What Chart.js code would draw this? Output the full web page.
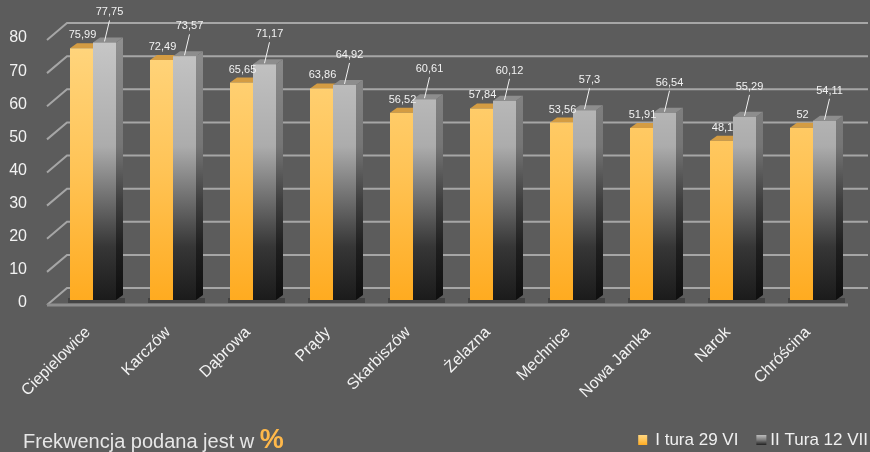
<!DOCTYPE html>
<html>
<head>
<meta charset="utf-8">
<script src="https://cdn.jsdelivr.net/npm/chart.js@4.4.1/dist/chart.umd.min.js"></script>
<style>
  html, body { margin: 0; padding: 0; background: #5c5c5c; }
  #wrap { width: 870px; height: 452px; position: relative; }
</style>
</head>
<body>
<div id="wrap"><canvas id="chart"></canvas></div>
<script>
const categories = ['Ciepielowice', 'Karczów', 'Dąbrowa', 'Prądy', 'Skarbiszów', 'Żelazna', 'Mechnice', 'Nowa Jamka', 'Narok', 'Chróścina'];
const tura1 = [75.99, 72.49, 65.65, 63.86, 56.52, 57.84, 53.56, 51.91, 48.1, 52];
const tura2 = [77.75, 73.57, 71.17, 64.92, 60.61, 60.12, 57.3, 56.54, 55.29, 54.11];
const seriesNames = ['I tura 29 VI', 'II Tura 12 VII'];
const yMin = 0, yMax = 80, yStep = 10;
const noteText = 'Frekwencja podana jest w ';
const noteUnit = '%';

// depth of bar extrusion and of the back wall
const DX = 7, DY = 5;
const WALL_DX = 20, WALL_DY = 17;
const FONT = '"Liberation Sans", Arial, sans-serif';

const fmt = v => String(v).replace('.', ',');

function vGrad(ctx, area, stops) {
    const g = ctx.createLinearGradient(0, area.top, 0, area.bottom);
    stops.forEach(s => g.addColorStop(s[0], s[1]));
    return g;
}
const orangeStops = [[0, '#ffd680'], [0.5, '#ffc457'], [1, '#ffab20']];
const grayStops = [[0, '#c8c8c8'], [0.42, '#acacac'], [0.62, '#6e6e6e'], [0.8, '#363636'], [1, '#1b1b1b']];
const graySideStops = [[0, '#909090'], [0.42, '#757575'], [0.62, '#404040'], [0.8, '#1f1f1f'], [1, '#0e0e0e']];

function seriesFill(stops, fallback) {
    return function (c) {
        const area = c.chart.chartArea;
        if (!area) return fallback;
        return vGrad(c.chart.ctx, area, stops);
    };
}

const bar3d = {
    id: 'bar3d',
    beforeDatasetsDraw(chart) {
        const ctx = chart.ctx;
        const a = chart.chartArea;
        const y = chart.scales.y;
        ctx.save();
        // back wall grid with slanted left edge
        ctx.strokeStyle = '#a6a6a6';
        ctx.lineWidth = 2;
        for (let v = yMin; v <= yMax; v += yStep) {
            const yf = y.getPixelForValue(v);
            ctx.beginPath();
            ctx.moveTo(a.left - 6, yf + 5);
            ctx.lineTo(a.left - 6 + WALL_DX, yf + 5 - WALL_DY);
            ctx.lineTo(chart.width - 2, yf + 5 - WALL_DY);
            ctx.stroke();
        }
        // floor front edge
        ctx.strokeStyle = '#8e8e8e';
        ctx.lineWidth = 3;
        ctx.beginPath();
        ctx.moveTo(a.left - 6, a.bottom + 5);
        ctx.lineTo(a.right - 5, a.bottom + 5);
        ctx.stroke();

        // soft shadow on the floor under each group
        ctx.fillStyle = 'rgba(40,40,40,0.45)';
        chart.getDatasetMeta(1).data.forEach(bar => {
            const r = bar.x + bar.width / 2 + DX;
            ctx.fillRect(bar.x - bar.width * 1.5 - 2, bar.base - 2, r - (bar.x - bar.width * 1.5 - 2) + 2, 5);
        });

        // extruded top and side faces
        const topCols = ['#d49c42', '#8d8d8d'];
        const sideFill = [() => '#c98a1c', () => vGrad(ctx, a, graySideStops)];
        chart.data.datasets.forEach((ds, di) => {
            const meta = chart.getDatasetMeta(di);
            meta.data.forEach(bar => {
                const l = bar.x - bar.width / 2, r = bar.x + bar.width / 2;
                ctx.fillStyle = sideFill[di]();
                ctx.beginPath();
                ctx.moveTo(r, bar.y);
                ctx.lineTo(r + DX, bar.y - DY);
                ctx.lineTo(r + DX, bar.base - DY);
                ctx.lineTo(r, bar.base);
                ctx.closePath();
                ctx.fill();
                ctx.fillStyle = topCols[di];
                ctx.beginPath();
                ctx.moveTo(l, bar.y);
                ctx.lineTo(r, bar.y);
                ctx.lineTo(r + DX, bar.y - DY);
                ctx.lineTo(l + DX, bar.y - DY);
                ctx.closePath();
                ctx.fill();
            });
        });
        ctx.restore();
    },
    afterDatasetsDraw(chart) {
        const ctx = chart.ctx;
        ctx.save();
        ctx.font = '11px ' + FONT;
        ctx.fillStyle = '#f2f2f2';
        ctx.strokeStyle = '#f2f2f2';
        ctx.lineWidth = 1;
        ctx.textAlign = 'center';
        ctx.textBaseline = 'middle';
        chart.getDatasetMeta(0).data.forEach((bar, i) => {
            ctx.fillText(fmt(tura1[i]), bar.x + 1, bar.y - 13);
        });
        chart.getDatasetMeta(1).data.forEach((bar, i) => {
            const tx = bar.x + 5, ty = bar.y - 30;
            ctx.fillText(fmt(tura2[i]), tx, ty);
            ctx.beginPath();
            ctx.moveTo(tx, ty + 8);
            ctx.lineTo(bar.x, bar.y - 1);
            ctx.stroke();
        });
        ctx.restore();
    },
    afterDraw(chart) {
        const ctx = chart.ctx;
        ctx.save();
        // footnote
        ctx.textBaseline = 'alphabetic';
        ctx.textAlign = 'left';
        ctx.font = '20px ' + FONT;
        ctx.fillStyle = '#e6e6e6';
        ctx.fillText(noteText, 23, 448);
        const w = ctx.measureText(noteText).width;
        ctx.font = 'bold 27px ' + FONT;
        ctx.fillStyle = '#ffb84a';
        ctx.fillText(noteUnit, 23 + w, 448);

        // legend, right aligned
        ctx.font = '17px ' + FONT;
        ctx.textBaseline = 'middle';
        const ly = 440;
        const w1 = ctx.measureText(seriesNames[0]).width;
        const w2 = ctx.measureText(seriesNames[1]).width;
        const t2x = chart.width - 2 - w2;
        const b2x = t2x - 14;
        const t1x = b2x - 18 - w1;
        const b1x = t1x - 17;
        const boxArea = { top: ly - 5, bottom: ly + 5 };
        ctx.fillStyle = vGrad(ctx, boxArea, orangeStops);
        ctx.fillRect(b1x, ly - 5, 9, 10);
        ctx.fillStyle = vGrad(ctx, boxArea, [[0, '#bdbdbd'], [0.5, '#7a7a7a'], [1, '#222']]);
        ctx.fillRect(b2x, ly - 5, 10, 10);
        ctx.fillStyle = '#f0f0f0';
        ctx.fillText(seriesNames[0], t1x, ly);
        ctx.fillText(seriesNames[1], t2x, ly);
        ctx.restore();
    }
};

new Chart(document.getElementById('chart'), {
    type: 'bar',
    data: {
        labels: categories,
        datasets: [
            { label: seriesNames[0], data: tura1, backgroundColor: seriesFill(orangeStops, '#ffc04a'), borderWidth: 0 },
            { label: seriesNames[1], data: tura2, backgroundColor: seriesFill(grayStops, '#999999'), borderWidth: 0 }
        ]
    },
    options: {
        responsive: true,
        maintainAspectRatio: false,
        animation: false,
        events: [],
        categoryPercentage: 0.575,
        barPercentage: 1,
        layout: { padding: { left: 0, right: 17, top: 35, bottom: 0 } },
        plugins: {
            legend: { display: false },
            tooltip: { enabled: false }
        },
        scales: {
            x: {
                grid: { display: false },
                border: { display: false },
                ticks: {
                    color: '#f2f2f2',
                    font: { size: 16, family: FONT },
                    minRotation: 45,
                    maxRotation: 45,
                    padding: 15,
                    labelOffset: -5
                },
                afterFit: s => { s.height = 152; }
            },
            y: {
                min: yMin,
                max: yMax,
                grid: { display: false },
                border: { display: false },
                ticks: {
                    stepSize: yStep,
                    color: '#f2f2f2',
                    font: { size: 16, family: FONT },
                    padding: 18,
                    labelOffset: 3
                },
                afterFit: s => { s.width = 53; }
            }
        }
    },
    plugins: [bar3d]
});
</script>
</body>
</html>
